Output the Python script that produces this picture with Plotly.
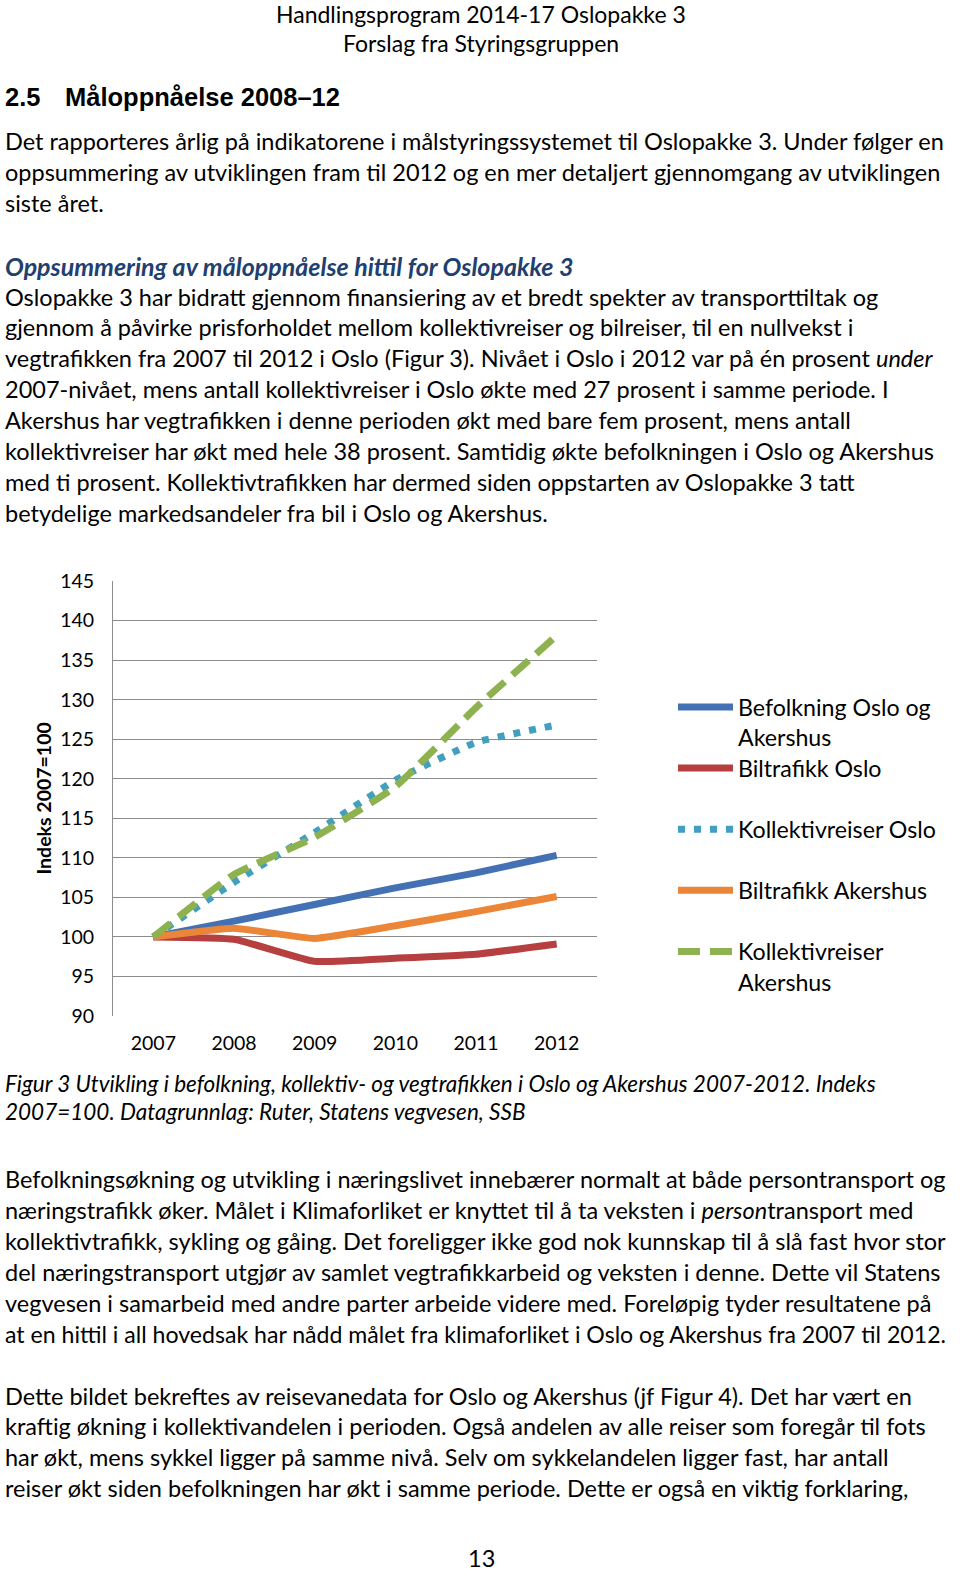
import plotly.graph_objects as go

W, H = 960, 1571
S = 1571 / 1568

years = ["2007", "2008", "2009", "2010", "2011", "2012"]
befolkning = [100, 102.0, 104.1, 106.2, 108.1, 110.3]
biltrafikk_oslo = [100, 99.7, 96.9, 97.3, 97.8, 99.1]
kollektiv_oslo = [100, 106.9, 113.2, 119.8, 124.6, 126.8]
biltrafikk_akershus = [100, 101.1, 99.8, 101.4, 103.2, 105.1]
kollektiv_akershus = [100, 107.9, 112.6, 119.0, 129.0, 138.1]
y_ticks = [90, 95, 100, 105, 110, 115, 120, 125, 130, 135, 140, 145]

series = [
    ("Befolkning Oslo og<br>Akershus", befolkning, "#4371B4", "solid", "legend"),
    ("Biltrafikk Oslo", biltrafikk_oslo, "#B5403F", "solid", "legend2"),
    ("Kollektivreiser Oslo", kollektiv_oslo, "#419FC0", "7px,9px", "legend3"),
    ("Biltrafikk Akershus", biltrafikk_akershus, "#EB8638", "solid", "legend4"),
    ("Kollektivreiser<br>Akershus", kollektiv_akershus, "#8FB250", "22px,10px", "legend5"),
]

FONT = "Lato, Carlito, Calibri, sans-serif"
BODY = 23.5

fig = go.Figure()
for name, vals, col, dash, lg in series:
    fig.add_trace(go.Scatter(
        x=years, y=vals, name=name, mode="lines",
        line=dict(color=col, width=7, dash=dash, shape="spline", smoothing=0.4),
        legend=lg, showlegend=True,
    ))

def py(v):
    return 1 - v * S / H

fig.update_layout(
    template="none",
    width=W, height=H,
    showlegend=True,
    margin=dict(l=0, r=0, t=0, b=0, pad=0, autoexpand=False),
    paper_bgcolor="white", plot_bgcolor="white",
    font=dict(family=FONT, color="black"),
    xaxis=dict(domain=[113 / W, 597 / W], type="category", range=[-0.5, 5.5],
               automargin=False,
               showgrid=False, showline=False, zeroline=False, ticks="",
               tickfont=dict(size=19.5, family=FONT, color="black"),
               ticklabelstandoff=14),
    yaxis=dict(domain=[py(1014), py(580)], range=[90, 145], tickvals=y_ticks,
               automargin=False,
               showgrid=True, gridcolor="#8C8C8C", gridwidth=1,
               showline=True, linecolor="#8C8C8C", linewidth=1,
               zeroline=False, ticks="",
               tickfont=dict(size=19.5, family=FONT, color="black"),
               ticklabelstandoff=14),
)

leg_common = dict(xanchor="left", yanchor="middle", bgcolor="rgba(0,0,0,0)",
                  font=dict(size=23.2, family=FONT, color="black"),
                  itemwidth=55, valign="top", traceorder="normal", visible=True,
                  borderwidth=0)
leg_pos = {"legend": 721, "legend2": 767, "legend3": 828, "legend4": 889, "legend5": 965}
for lg, ypx in leg_pos.items():
    fig.update_layout({lg: dict(x=673 / W, y=py(ypx), **leg_common)})

def add_text(txt, xpx, ypx, size=BODY, family=FONT, color="black", anchor="left"):
    fig.add_annotation(text=txt, x=xpx / W, y=py(ypx - 1), xref="paper", yref="paper",
                       xanchor=anchor, yanchor="middle", showarrow=False,
                       font=dict(size=size, family=family, color=color))

# header
add_text("Handlingsprogram 2014-17 Oslopakke 3", 481, 15, size=23, anchor="center")
add_text("Forslag fra Styringsgruppen", 481, 44, size=23, anchor="center")
# heading
HF = "Liberation Sans, Arial"
add_text("<b>2.5</b>", 3, 98, size=25.5, family=HF)
add_text("<b>Måloppnåelse 2008–12</b>", 63, 98, size=25.5, family=HF)

para1 = [
    "Det rapporteres årlig på indikatorene i målstyringssystemet til Oslopakke 3. Under følger en",
    "oppsummering av utviklingen fram til 2012 og en mer detaljert gjennomgang av utviklingen",
    "siste året.",
]
for i, t in enumerate(para1):
    add_text(t, 3, 142 + i * 31)

add_text("<b><i>Oppsummering av måloppnåelse hittil for Oslopakke 3</i></b>", 3, 266, size=25, color="#22406F")

para2 = [
    "Oslopakke 3 har bidratt gjennom finansiering av et bredt spekter av transporttiltak og",
    "gjennom å påvirke prisforholdet mellom kollektivreiser og bilreiser, til en nullvekst i",
    "vegtrafikken fra 2007 til 2012 i Oslo (Figur 3). Nivået i Oslo i 2012 var på én prosent <i>under</i>",
    "2007-nivået, mens antall kollektivreiser i Oslo økte med 27 prosent i samme periode. I",
    "Akershus har vegtrafikken i denne perioden økt med bare fem prosent, mens antall",
    "kollektivreiser har økt med hele 38 prosent. Samtidig økte befolkningen i Oslo og Akershus",
    "med ti prosent. Kollektivtrafikken har dermed siden oppstarten av Oslopakke 3 tatt",
    "betydelige markedsandeler fra bil i Oslo og Akershus.",
]
for i, t in enumerate(para2):
    add_text(t, 3, 297 + i * 30.85)

# y-axis title
fig.add_annotation(text="<b>Indeks 2007=100</b>", x=44 / W, y=py(797), xref="paper", yref="paper",
                   textangle=-90, showarrow=False, xanchor="center", yanchor="middle",
                   font=dict(size=19.5, family=FONT, color="black"))

caption = [
    "<i>Figur 3 Utvikling i befolkning, kollektiv- og vegtrafikken i Oslo og Akershus 2007-2012. Indeks</i>",
    "<i>2007=100. Datagrunnlag: Ruter, Statens vegvesen, SSB</i>",
]
for i, t in enumerate(caption):
    add_text(t, 3, 1082 + i * 28, size=22.5)

para3 = [
    "Befolkningsøkning og utvikling i næringslivet innebærer normalt at både persontransport og",
    "næringstrafikk øker. Målet i Klimaforliket er knyttet til å ta veksten i <i>person</i>transport med",
    "kollektivtrafikk, sykling og gåing. Det foreligger ikke god nok kunnskap til å slå fast hvor stor",
    "del næringstransport utgjør av samlet vegtrafikkarbeid og veksten i denne. Dette vil Statens",
    "vegvesen i samarbeid med andre parter arbeide videre med. Foreløpig tyder resultatene på",
    "at en hittil i all hovedsak har nådd målet fra klimaforliket i Oslo og Akershus fra 2007 til 2012.",
]
for i, t in enumerate(para3):
    add_text(t, 3, 1178 + i * 30.8, size=(23.1 if i == len(para3) - 1 else BODY))

para4 = [
    "Dette bildet bekreftes av reisevanedata for Oslo og Akershus (jf Figur 4). Det har vært en",
    "kraftig økning i kollektivandelen i perioden. Også andelen av alle reiser som foregår til fots",
    "har økt, mens sykkel ligger på samme nivå. Selv om sykkelandelen ligger fast, har antall",
    "reiser økt siden befolkningen har økt i samme periode. Dette er også en viktig forklaring,",
]
for i, t in enumerate(para4):
    add_text(t, 3, 1394 + i * 30.7)

add_text("13", 481, 1556, anchor="center")

fig.write_html("out.html", config={"displayModeBar": False},
               post_script="document.body.style.margin='0';document.body.style.overflow='hidden';")
